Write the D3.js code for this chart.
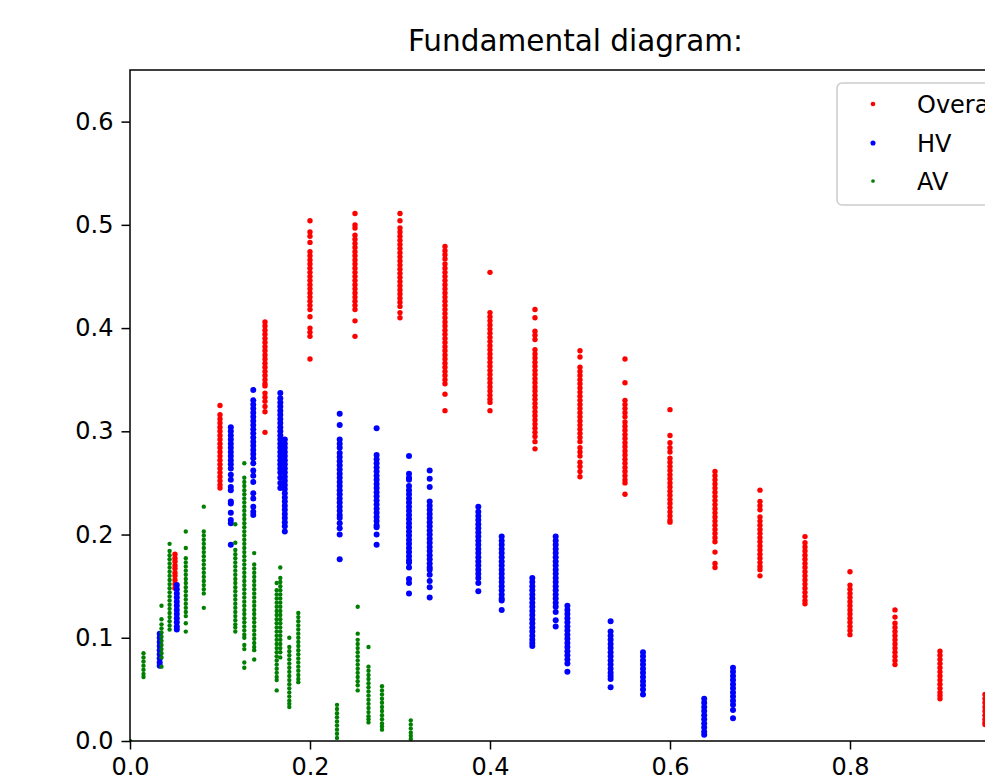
<!DOCTYPE html>
<html><head><meta charset="utf-8">
<script src="https://cdn.jsdelivr.net/npm/d3@7"></script>
<style>html,body{margin:0;padding:0;background:#fff;}svg{display:block;}</style>
</head><body>
<svg id="chart" width="985" height="784"></svg>
<script>
const titleText = "Fundamental diagram:";
const legendLabels = ["Overall", "HV", "AV"];
const seriesColors = ["#ff0000", "#0000ff", "#008000"];
const xTicks = [0.0, 0.2, 0.4, 0.6, 0.8];
const yTicks = [0.0, 0.1, 0.2, 0.3, 0.4, 0.5, 0.6];

const overallDensity = [0.05,0.10,0.15,0.20,0.25,0.30,0.35,0.40,0.45,0.50,0.55,0.60,0.65,0.70,0.75,0.80,0.85,0.90,0.95];
const overallFlow = [
 [0.181,0.177,0.174,0.170,0.167,0.163,0.160,0.156,0.152,0.148],
 [0.325,0.316,0.312,0.308,0.304,0.300,0.296,0.292,0.288,0.284,0.280,0.276,0.272,0.268,0.264,0.260,0.256,0.252,0.248,0.245],
 [0.406,0.402,0.398,0.394,0.390,0.386,0.382,0.378,0.374,0.370,0.366,0.362,0.358,0.354,0.350,0.346,0.344,0.337,0.333,0.329,0.324,0.319,0.299],
 [0.504,0.493,0.489,0.483,0.474,0.470,0.466,0.462,0.458,0.454,0.450,0.446,0.442,0.438,0.434,0.430,0.426,0.422,0.418,0.411,0.400,0.396,0.392,0.370],
 [0.511,0.500,0.497,0.490,0.486,0.482,0.478,0.474,0.470,0.466,0.462,0.458,0.454,0.450,0.446,0.442,0.438,0.434,0.430,0.426,0.422,0.418,0.407,0.392],
 [0.511,0.504,0.497,0.493,0.489,0.485,0.481,0.477,0.473,0.469,0.465,0.461,0.457,0.453,0.449,0.445,0.441,0.437,0.433,0.429,0.425,0.421,0.415,0.410],
 [0.479,0.475,0.471,0.467,0.462,0.458,0.454,0.450,0.446,0.442,0.438,0.434,0.430,0.426,0.422,0.418,0.414,0.410,0.406,0.402,0.398,0.394,0.390,0.386,0.382,0.378,0.374,0.370,0.366,0.362,0.358,0.354,0.350,0.346,0.336,0.320],
 [0.454,0.415,0.411,0.407,0.403,0.399,0.395,0.391,0.387,0.383,0.379,0.375,0.371,0.367,0.363,0.359,0.355,0.351,0.347,0.343,0.339,0.335,0.331,0.328,0.320],
 [0.418,0.410,0.397,0.393,0.389,0.379,0.375,0.371,0.367,0.363,0.359,0.355,0.351,0.347,0.343,0.339,0.335,0.331,0.327,0.323,0.319,0.315,0.311,0.307,0.303,0.299,0.295,0.290,0.283],
 [0.378,0.372,0.362,0.358,0.354,0.350,0.346,0.342,0.338,0.334,0.330,0.326,0.322,0.318,0.314,0.310,0.306,0.302,0.298,0.294,0.290,0.284,0.280,0.276,0.270,0.266,0.261,0.256],
 [0.370,0.347,0.330,0.326,0.322,0.318,0.314,0.309,0.305,0.301,0.297,0.293,0.289,0.285,0.281,0.277,0.273,0.269,0.265,0.261,0.257,0.253,0.250,0.239],
 [0.321,0.296,0.289,0.284,0.280,0.274,0.270,0.266,0.262,0.258,0.254,0.250,0.246,0.242,0.238,0.234,0.230,0.226,0.222,0.218,0.214,0.212],
 [0.261,0.257,0.253,0.249,0.245,0.241,0.237,0.233,0.229,0.225,0.221,0.217,0.213,0.209,0.205,0.201,0.197,0.193,0.183,0.172,0.168],
 [0.243,0.232,0.228,0.224,0.217,0.213,0.209,0.205,0.201,0.197,0.193,0.189,0.185,0.181,0.177,0.173,0.169,0.166,0.160],
 [0.198,0.192,0.188,0.184,0.180,0.176,0.172,0.168,0.164,0.160,0.156,0.152,0.148,0.144,0.140,0.136,0.133],
 [0.164,0.151,0.147,0.143,0.139,0.135,0.131,0.127,0.123,0.119,0.115,0.111,0.107,0.103],
 [0.127,0.120,0.114,0.110,0.106,0.102,0.098,0.094,0.090,0.086,0.082,0.078,0.074],
 [0.087,0.083,0.079,0.075,0.071,0.067,0.063,0.059,0.055,0.051,0.047,0.044,0.041],
 [0.045,0.041,0.037,0.033,0.029,0.025,0.021,0.018,0.016]
];

const hvDensity = [0.033,0.052,0.112,0.137,0.167,0.172,0.233,0.274,0.310,0.333,0.387,0.413,0.447,0.473,0.486,0.534,0.570,0.638,0.670];
const hvFlow = [
 [0.104,0.100,0.096,0.092,0.088,0.084,0.080,0.076,0.073],
 [0.151,0.147,0.143,0.139,0.135,0.131,0.127,0.123,0.119,0.115,0.111,0.108],
 [0.304,0.300,0.296,0.292,0.288,0.284,0.280,0.276,0.272,0.268,0.264,0.258,0.253,0.246,0.243,0.232,0.230,0.221,0.214,0.211,0.190],
 [0.340,0.330,0.326,0.322,0.318,0.314,0.310,0.306,0.302,0.298,0.294,0.290,0.286,0.282,0.278,0.274,0.269,0.262,0.257,0.251,0.240,0.235,0.227,0.222,0.219],
 [0.337,0.332,0.328,0.324,0.320,0.316,0.312,0.308,0.304,0.300,0.296,0.292,0.288,0.284,0.280,0.276,0.272,0.268,0.264,0.260,0.255,0.250,0.245],
 [0.292,0.288,0.284,0.280,0.276,0.272,0.268,0.264,0.260,0.256,0.252,0.248,0.244,0.240,0.236,0.232,0.228,0.224,0.220,0.216,0.212,0.208,0.203],
 [0.317,0.306,0.292,0.288,0.284,0.279,0.275,0.271,0.267,0.263,0.259,0.255,0.251,0.247,0.243,0.239,0.235,0.231,0.227,0.223,0.219,0.216,0.211,0.206,0.200,0.176],
 [0.303,0.277,0.273,0.269,0.265,0.261,0.257,0.253,0.249,0.245,0.241,0.237,0.233,0.229,0.225,0.221,0.217,0.213,0.209,0.207,0.200,0.190],
 [0.276,0.259,0.255,0.253,0.247,0.243,0.239,0.235,0.231,0.227,0.223,0.219,0.215,0.211,0.207,0.203,0.199,0.195,0.191,0.187,0.183,0.179,0.175,0.173,0.168,0.157,0.153,0.143],
 [0.262,0.254,0.246,0.232,0.228,0.224,0.220,0.216,0.212,0.208,0.204,0.200,0.196,0.192,0.188,0.184,0.180,0.176,0.172,0.168,0.166,0.161,0.155,0.149,0.139],
 [0.227,0.222,0.218,0.214,0.210,0.206,0.202,0.198,0.194,0.190,0.186,0.182,0.178,0.174,0.170,0.166,0.162,0.158,0.153,0.145],
 [0.198,0.194,0.190,0.186,0.182,0.178,0.174,0.170,0.166,0.162,0.158,0.154,0.150,0.146,0.142,0.138,0.136,0.127],
 [0.158,0.154,0.150,0.146,0.142,0.138,0.134,0.130,0.126,0.122,0.118,0.114,0.110,0.106,0.102,0.098,0.095,0.092],
 [0.198,0.194,0.190,0.186,0.182,0.178,0.174,0.170,0.166,0.162,0.158,0.154,0.150,0.146,0.142,0.138,0.134,0.130,0.125,0.117,0.111],
 [0.131,0.127,0.123,0.119,0.115,0.111,0.107,0.103,0.099,0.095,0.091,0.087,0.083,0.079,0.075,0.067],
 [0.116,0.106,0.102,0.098,0.094,0.090,0.086,0.082,0.078,0.074,0.070,0.066,0.063,0.060,0.052],
 [0.086,0.082,0.078,0.074,0.070,0.066,0.062,0.058,0.054,0.050,0.045],
 [0.041,0.037,0.033,0.029,0.025,0.021,0.017,0.013,0.009,0.006],
 [0.071,0.067,0.063,0.059,0.055,0.051,0.047,0.043,0.039,0.035,0.030,0.022]
];

const avDensity = [0.000,0.015,0.035,0.044,0.062,0.082,0.117,0.127,0.138,0.163,0.167,0.177,0.187,0.230,0.253,0.265,0.280,0.312];
const avFlow = [
 [0.000],
 [0.085,0.081,0.077,0.073,0.069,0.065,0.062],
 [0.131,0.118,0.113,0.109,0.105,0.101,0.097,0.093,0.089,0.085,0.081,0.072],
 [0.191,0.184,0.180,0.176,0.172,0.168,0.164,0.160,0.156,0.152,0.148,0.144,0.140,0.136,0.132,0.128,0.124,0.120,0.116,0.112,0.108],
 [0.203,0.187,0.177,0.173,0.169,0.165,0.161,0.157,0.153,0.149,0.145,0.141,0.137,0.133,0.129,0.125,0.121,0.114,0.106],
 [0.227,0.203,0.199,0.195,0.191,0.187,0.183,0.179,0.175,0.171,0.167,0.163,0.159,0.155,0.151,0.147,0.143,0.129],
 [0.210,0.192,0.185,0.181,0.177,0.173,0.169,0.165,0.161,0.157,0.153,0.149,0.145,0.141,0.137,0.133,0.129,0.125,0.121,0.117,0.113,0.110,0.106],
 [0.269,0.255,0.251,0.247,0.243,0.239,0.235,0.231,0.227,0.223,0.219,0.215,0.211,0.207,0.203,0.199,0.195,0.191,0.187,0.183,0.179,0.175,0.171,0.167,0.163,0.159,0.155,0.151,0.147,0.143,0.139,0.135,0.131,0.127,0.123,0.119,0.115,0.111,0.107,0.103,0.100,0.093,0.089,0.076,0.071],
 [0.182,0.171,0.167,0.163,0.159,0.155,0.151,0.147,0.143,0.139,0.135,0.131,0.127,0.123,0.119,0.115,0.111,0.107,0.103,0.099,0.095,0.091,0.088,0.079],
 [0.153,0.146,0.142,0.138,0.134,0.130,0.126,0.122,0.118,0.114,0.110,0.106,0.102,0.098,0.094,0.090,0.086,0.082,0.078,0.074,0.070,0.066,0.062,0.059,0.049],
 [0.168,0.158,0.154,0.150,0.146,0.142,0.138,0.134,0.130,0.126,0.122,0.118,0.114,0.110,0.106,0.102,0.098,0.094,0.090,0.086,0.081],
 [0.100,0.091,0.087,0.083,0.079,0.075,0.071,0.067,0.063,0.059,0.055,0.051,0.047,0.043,0.039,0.036,0.033],
 [0.124,0.120,0.116,0.112,0.108,0.104,0.100,0.096,0.092,0.088,0.084,0.080,0.076,0.072,0.068,0.064,0.060,0.057],
 [0.035,0.031,0.027,0.023,0.019,0.015,0.011,0.007,0.003],
 [0.130,0.104,0.098,0.094,0.090,0.086,0.082,0.078,0.074,0.070,0.066,0.062,0.058,0.054,0.049],
 [0.091,0.072,0.068,0.064,0.060,0.056,0.052,0.048,0.044,0.040,0.036,0.032,0.028,0.024,0.021,0.018],
 [0.053,0.049,0.045,0.041,0.037,0.033,0.029,0.025,0.021,0.017,0.014,0.011],
 [0.020,0.016,0.012,0.008,0.005,0.002]
];

const markerRadius = [2.7, 3.0, 2.2];

const svg = d3.select("#chart");
const W = 985, H = 784;
const plot = {left: 130, right: 1021, top: 70, bottom: 741};
const FONT = "DejaVu Sans, Verdana, sans-serif";

const x = d3.scaleLinear().domain([0, 0.99]).range([plot.left, plot.right]);
const y = d3.scaleLinear().domain([0, 0.65]).range([plot.bottom, plot.top]);

svg.append("rect").attr("width", W).attr("height", H).attr("fill", "#fff");

svg.append("defs").append("clipPath").attr("id", "clip")
  .append("rect").attr("x", plot.left).attr("y", plot.top)
  .attr("width", plot.right - plot.left).attr("height", plot.bottom - plot.top);

function flatten(dens, flows) {
  const pts = [];
  dens.forEach((d, i) => flows[i].forEach(v => pts.push([d, v])));
  return pts;
}
const series = [
  flatten(overallDensity, overallFlow),
  flatten(hvDensity, hvFlow),
  flatten(avDensity, avFlow)
];

const marks = svg.append("g").attr("clip-path", "url(#clip)");
series.forEach((pts, si) => {
  marks.append("g").selectAll("circle").data(pts).join("circle")
    .attr("cx", d => x(d[0])).attr("cy", d => y(d[1]))
    .attr("r", markerRadius[si]).attr("fill", seriesColors[si]);
});

// axes
const xAxis = d3.axisBottom(x).tickValues(xTicks).tickFormat(d3.format(".1f")).tickSizeOuter(0).tickSize(8.5).tickPadding(8);
const yAxis = d3.axisLeft(y).tickValues(yTicks).tickFormat(d3.format(".1f")).tickSizeOuter(0).tickSize(8.5).tickPadding(8);
const gx = svg.append("g").attr("transform", `translate(0,${plot.bottom})`).call(xAxis);
const gy = svg.append("g").attr("transform", `translate(${plot.left},0)`).call(yAxis);
[gx, gy].forEach(g => {
  g.select(".domain").remove();
  g.selectAll(".tick line").attr("stroke", "#000").attr("stroke-width", 1.5);
  g.selectAll(".tick text").attr("font-family", FONT).attr("font-size", 24).attr("fill", "#000");
});

// spines
svg.append("rect").attr("x", plot.left).attr("y", plot.top)
  .attr("width", plot.right - plot.left).attr("height", plot.bottom - plot.top)
  .attr("fill", "none").attr("stroke", "#000").attr("stroke-width", 1.5);

// title
svg.append("text").attr("x", (plot.left + plot.right) / 2).attr("y", 51)
  .attr("text-anchor", "middle").attr("font-family", FONT).attr("font-size", 29.5)
  .attr("fill", "#000").text(titleText);

// legend (cut off at the right edge, as in the reference)
const lg = svg.append("g");
lg.append("rect").attr("x", 837).attr("y", 83).attr("width", 172).attr("height", 122)
  .attr("rx", 5).attr("fill", "#fff").attr("fill-opacity", 0.8)
  .attr("stroke", "#cccccc").attr("stroke-width", 1.5);
const rowY = [104, 143, 181];
legendLabels.forEach((lab, i) => {
  lg.append("circle").attr("cx", 873).attr("cy", rowY[i]).attr("r", markerRadius[i] * 0.85).attr("fill", seriesColors[i]);
  lg.append("text").attr("x", 917).attr("y", rowY[i] + 8.5).attr("font-family", FONT)
    .attr("font-size", 24).attr("fill", "#000").text(lab);
});
</script>
</body></html>
